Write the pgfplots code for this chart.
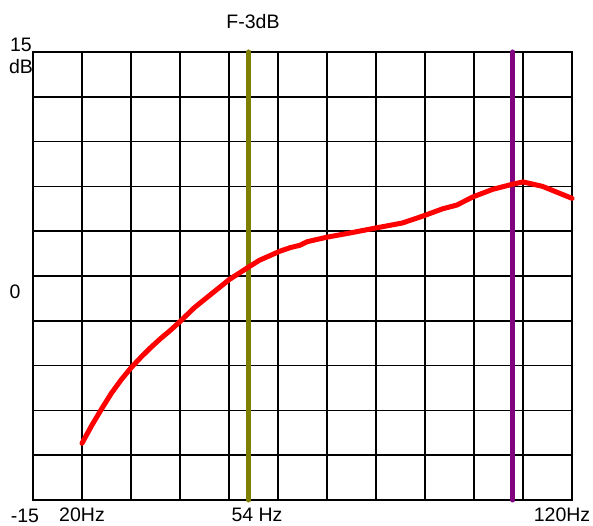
\documentclass[border=0pt]{standalone}
\usepackage{pgfplots}
\pgfplotsset{compat=1.18}
\usepackage{fontspec}
\setmainfont{Liberation Sans}
\definecolor{markolive}{RGB}{128,128,0}
\definecolor{markpurple}{RGB}{128,0,128}
% text nodes placed by pixel position of the reference (x from left, y from top)
\newcommand\lbl[3]{\node[inner sep=0pt] at ({#1-33},{500-#2}) {#3};}
\begin{document}
\begin{tikzpicture}[x=1pt,y=1pt,font=\fontsize{19.5}{23}\selectfont]
\useasboundingbox (-33,-26) rectangle (560,500);
\begin{axis}[
  at={(0pt,0pt)}, anchor=south west,
  scale only axis, width=539pt, height=448pt,
  xmin=10, xmax=120, ymin=-15, ymax=15,
  xtick={10,20,...,120}, ytick={-15,-12,...,15},
  xticklabels={}, yticklabels={},
  major tick length=0pt,
  grid=major,
  major grid style={black, line width=1.6pt},
  axis line style={black, line width=1.6pt},
  clip=false,
]
\addplot[markolive, line width=5pt, line cap=round] coordinates {(54,-15) (54,15)};
\addplot[markpurple, line width=5pt, line cap=round] coordinates {(107.9,-15) (107.9,15)};
\addplot[red, line width=5pt, line cap=round, line join=round] coordinates {
(20,-11.2) (22,-10.0) (24,-8.9) (26,-7.85) (28,-6.95) (30,-6.15)
(32,-5.45) (34,-4.8) (36,-4.2) (38,-3.65) (40,-3.05) (43,-2.1)
(46.6,-1.15) (50,-0.25) (54,0.6) (56.2,1.05) (60.3,1.65) (62.5,1.9)
(64.4,2.05) (66,2.3) (70,2.6) (75,2.9) (79.7,3.2) (85.4,3.55)
(89.9,4.05) (93.6,4.5) (96.5,4.75) (99.8,5.3) (103.8,5.8) (107.9,6.15)
(110,6.3) (114,6.0) (120,5.2)
};
\end{axis}
\lbl{21}{45}{15}
\lbl{21}{67}{dB}
\lbl{15}{292}{0}
\lbl{25}{516}{-15}
\lbl{82}{515}{20Hz}
\lbl{257}{515}{54 Hz}
\lbl{562}{515}{120Hz}
\lbl{253}{22}{F-3dB}
\end{tikzpicture}
\end{document}
